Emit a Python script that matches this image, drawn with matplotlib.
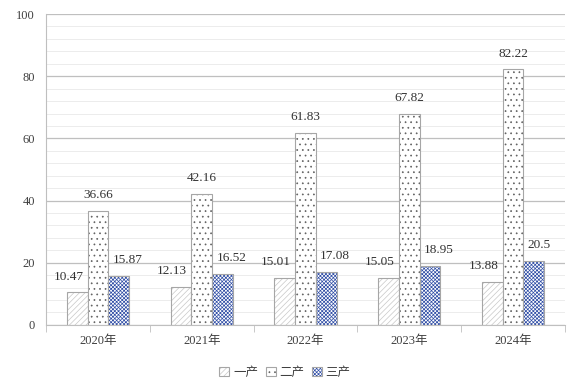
import matplotlib
matplotlib.use("Agg")
import matplotlib.pyplot as plt
import numpy as np

plt.rcParams["font.family"] = ["Liberation Serif", "Noto Sans CJK SC", "DejaVu Sans"]
plt.rcParams["hatch.linewidth"] = 0.5

years = ["2020年", "2021年", "2022年", "2023年", "2024年"]
series_names = ["一产", "二产", "三产"]
primary = [10.47, 12.13, 15.01, 15.05, 13.88]
secondary = [36.66, 42.16, 61.83, 67.82, 82.22]
tertiary = [15.87, 16.52, 17.08, 18.95, 20.5]

fig = plt.figure(figsize=(5.7, 3.9), dpi=100)
ax = fig.add_axes([0.081, 0.167, 0.910, 0.797])

x = np.arange(len(years))
w = 0.2
styles = [
    ("//////", "#c8c8c8"),
    ("...", "#606060"),
    ("xxxxxxxxx", "#2f4da5"),
]
# label placement: first series right-aligned, middle centred, last left-aligned
label_pos = [("right", -3), ("center", 0), ("left", 3)]
for i, vals in enumerate([primary, secondary, tertiary]):
    hatch, hcol = styles[i]
    bars = ax.bar(x + (i - 1) * w, vals, w, facecolor="white",
                  edgecolor="#a6a6a6", linewidth=0.8, label=series_names[i])
    for b in bars:
        b.set_hatch(hatch)
        b._hatch_color = matplotlib.colors.to_rgba(hcol)
    ha, dx = label_pos[i]
    for b, v in zip(bars, vals):
        if ha == "right":
            xa = b.get_x() + b.get_width()
        elif ha == "left":
            xa = b.get_x()
        else:
            xa = b.get_x() + b.get_width() / 2
        ax.annotate(f"{v:g}", (xa, v), xytext=(dx, 7), textcoords="offset points",
                    ha=ha, va="bottom", fontsize=9.5, color="#333333")

ax.set_xlim(-0.5, len(years) - 0.5)
ax.set_ylim(0, 100)
ax.set_yticks(range(0, 101, 20))
ax.set_yticks(range(0, 101, 4), minor=True)
ax.grid(axis="y", which="major", color="#bfbfbf", linewidth=0.9)
ax.grid(axis="y", which="minor", color="#ececec", linewidth=0.7)
ax.set_axisbelow(True)
ax.set_xticks(x)
ax.set_xticklabels(years, fontsize=9, color="#404040")
ax.set_xticks(np.arange(-0.5, len(years)), minor=True)
ax.tick_params(axis="x", which="major", length=0, pad=7)
ax.tick_params(axis="x", which="minor", length=5, color="#bfbfbf")
ax.tick_params(axis="y", which="both", length=0, labelsize=9, labelcolor="#404040", pad=8)
for s in ["top", "right"]:
    ax.spines[s].set_visible(False)
ax.spines["left"].set_color("#bfbfbf")
ax.spines["bottom"].set_color("#bfbfbf")

fig.legend(loc="lower center", ncol=3, frameon=False, fontsize=9,
           bbox_to_anchor=(0.5, 0.0), handlelength=0.8, handleheight=0.8,
           handletextpad=0.3, columnspacing=0.6, labelcolor="#404040")

fig.savefig("out.png", dpi=100)
